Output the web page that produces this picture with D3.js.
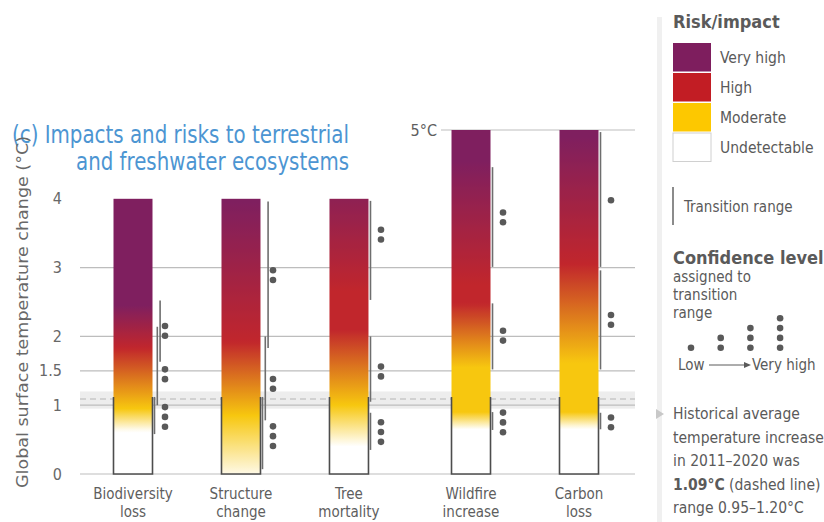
<!DOCTYPE html>
<html>
<head>
<meta charset="utf-8">
<script src="https://cdn.jsdelivr.net/npm/d3@7"></script>
<style>
  html, body { margin: 0; padding: 0; background: #fff; }
  svg { display: block; }
</style>
</head>
<body>
<svg id="chart" width="824" height="522"></svg>
<script>
// ---- Data -------------------------------------------------------------
const categories = ["Biodiversity loss", "Structure change", "Tree mortality", "Wildfire increase", "Carbon loss"];
const categoryLines = [["Biodiversity", "loss"], ["Structure", "change"], ["Tree", "mortality"], ["Wildfire", "increase"], ["Carbon", "loss"]];
const barTops = [4, 4, 4, 5, 5];           // °C reached by each assessed bar
const yTicks = [0, 1, 1.5, 2, 3, 4];
const gridValues = [0, 1, 1.5, 2, 3];
const topGridValue = 5;

const riskLevels = ["Very high", "High", "Moderate", "Undetectable"];
const riskColours = ["#7e1e5e", "#c21d24", "#fdc800", "#ffffff"];
const barRiskColours = ["#7f1f5f", "#c1262c", "#f7c70f", "#ffffff"];

// Colour stops along each bar: [°C, risk level]
const biodiversityStops = [[0.62, "Undetectable"], [0.95, "Moderate"], [1.83, "High"], [2.45, "Very high"]];
const structureStops    = [[-0.1, "Undetectable"], [0.85, "Moderate"], [1.92, "High"], [3.95, "Very high"]];
const treeStops         = [[0.40, "Undetectable"], [1.00, "Moderate"], [2.10, "High"], [2.65, "High"], [4.40, "Very high"]];
const wildfireStops     = [[0.65, "Undetectable"], [0.90, "Moderate"], [1.55, "Moderate"], [2.48, "High"], [2.75, "High"], [4.55, "Very high"]];
const carbonStops       = [[0.66, "Undetectable"], [0.90, "Moderate"], [1.61, "Moderate"], [3.05, "High"], [4.90, "Very high"]];

// Transition ranges: [from °C, to °C, confidence dots, °C of the dot marker]
const biodiversityTransitions = [[0.58, 1.12, 3, 0.83], [1.00, 2.14, 2, 1.45], [1.63, 2.52, 2, 2.08]];
const structureTransitions    = [[0.07, 1.12, 3, 0.55], [0.78, 2.00, 2, 1.31], [1.83, 3.96, 2, 2.89]];
const treeTransitions         = [[0.35, 0.89, 3, 0.61], [1.05, 2.00, 2, 1.49], [2.53, 3.97, 2, 3.48]];
const wildfireTransitions     = [[0.64, 0.90, 3, 0.75], [1.52, 2.48, 2, 2.01], [3.01, 4.46, 2, 3.73]];
const carbonTransitions       = [[0.65, 0.89, 2, 0.75], [1.52, 2.96, 2, 2.24], [3.01, 4.97, 1, 3.98]];

const historicalMean = 1.09;
const historicalRange = [0.95, 1.20];
const outlineTop = 1.12;                    // top of the outlined present-day section

const barStops = [biodiversityStops, structureStops, treeStops, wildfireStops, carbonStops];
const barTransitions = [biodiversityTransitions, structureTransitions, treeTransitions, wildfireTransitions, carbonTransitions];

// ---- Layout -----------------------------------------------------------
const FONT = "'Liberation Sans Narrow','DejaVu Sans Condensed','Open Sans',sans-serif";
const svg = d3.select("#chart").style("font-family", FONT);

const y = d3.scaleLinear().domain([0, 5]).range([474, 130]);
const groupGap = 0.13;                      // extra space before the fire/carbon pair
const slot = i => i + (i >= 3 ? groupGap : 0);
const x = d3.scaleLinear().domain([0, 4 + groupGap]).range([133, 579]);
const barW = 39;
const gridX0 = 80, gridX1 = 635;

const levelColour = d3.scaleOrdinal().domain(riskLevels).range(barRiskColours);

// ---- Title ------------------------------------------------------------
const title = svg.append("g").attr("fill", "#4c95d2").attr("font-size", 24).attr("text-anchor", "end");
title.append("text").attr("x", 349).attr("y", 143).text("(c) Impacts and risks to terrestrial")
  .attr("textLength", 337).attr("lengthAdjust", "spacingAndGlyphs");
title.append("text").attr("x", 349).attr("y", 170).text("and freshwater ecosystems")
  .attr("textLength", 273).attr("lengthAdjust", "spacingAndGlyphs");

// ---- Historical band and grid ----------------------------------------
svg.append("rect")
  .attr("x", gridX0).attr("width", gridX1 - gridX0)
  .attr("y", y(historicalRange[1])).attr("height", y(historicalRange[0]) - y(historicalRange[1]))
  .attr("fill", "#ededed");

svg.append("g").selectAll("line").data(gridValues).join("line")
  .attr("x1", gridX0).attr("x2", gridX1)
  .attr("y1", d => y(d)).attr("y2", d => y(d))
  .attr("stroke", "#bdbdbd").attr("stroke-width", 1.2);

svg.append("line")
  .attr("x1", 441).attr("x2", gridX1)
  .attr("y1", y(topGridValue)).attr("y2", y(topGridValue))
  .attr("stroke", "#bdbdbd").attr("stroke-width", 1.2);

svg.append("text").attr("x", 437).attr("y", y(topGridValue) + 5.5)
  .attr("text-anchor", "end").attr("fill", "#5e5e5e").attr("font-size", 16).text("5°C");

svg.append("line")
  .attr("x1", gridX0).attr("x2", gridX1)
  .attr("y1", y(historicalMean)).attr("y2", y(historicalMean))
  .attr("stroke", "#b5b5b5").attr("stroke-width", 1.1).attr("stroke-dasharray", "6,4");

// ---- Y axis -------------------------------------------------------------
const yAxis = svg.append("g").attr("transform", `translate(${gridX0},0)`)
  .call(d3.axisLeft(y).tickValues(yTicks).tickSize(0).tickPadding(18).tickFormat(d3.format("")));
yAxis.select(".domain").remove();
yAxis.selectAll("text").attr("fill", "#686868").attr("font-size", 16).attr("font-family", FONT);

svg.append("text")
  .attr("transform", "translate(28,312) rotate(-90)")
  .attr("text-anchor", "middle").attr("fill", "#686868").attr("font-size", 16)
  .attr("textLength", 352).attr("lengthAdjust", "spacingAndGlyphs")
  .text("Global surface temperature change (°C)");

// ---- Bars ---------------------------------------------------------------
const defs = svg.append("defs");
categories.forEach((c, i) => {
  const stops = barStops[i];
  const colour = d3.scaleLinear()
    .domain(stops.map(s => s[0]))
    .range(stops.map(s => levelColour(s[1])))
    .interpolate(d3.interpolateRgb)
    .clamp(true);
  const grad = defs.append("linearGradient")
    .attr("id", "grad" + i)
    .attr("gradientUnits", "userSpaceOnUse")
    .attr("x1", 0).attr("x2", 0)
    .attr("y1", y(0)).attr("y2", y(barTops[i]));
  d3.range(0, barTops[i] + 0.001, 0.05).forEach(t => {
    grad.append("stop").attr("offset", t / barTops[i]).attr("stop-color", colour(t));
  });
});

const bars = svg.append("g").selectAll("g").data(categories).join("g");

bars.append("rect")
  .attr("x", (d, i) => x(slot(i)) - barW / 2)
  .attr("width", barW)
  .attr("y", (d, i) => y(barTops[i]))
  .attr("height", (d, i) => y(0) - y(barTops[i]))
  .attr("fill", (d, i) => `url(#grad${i})`);

// outlined present-day section (open at the top)
bars.append("path")
  .attr("d", (d, i) => {
    const l = x(slot(i)) - barW / 2, r = l + barW;
    return `M${l},${y(outlineTop)}V${y(0)}H${r}V${y(outlineTop)}`;
  })
  .attr("fill", "none").attr("stroke", "#4d4d4d").attr("stroke-width", 1.6);

// category labels
bars.each(function (d, i) {
  const t = d3.select(this).append("text")
    .attr("text-anchor", "middle").attr("fill", "#5e5e5e").attr("font-size", 15);
  categoryLines[i].forEach((line, k) => {
    t.append("tspan").attr("x", x(slot(i))).attr("y", 499 + k * 18).text(line);
  });
});

// ---- Transition ranges and confidence dots ------------------------------
const dotR = 3.3, dotStep = 9.8;
categories.forEach((c, i) => {
  const right = x(slot(i)) + barW / 2;
  const g = svg.append("g");
  let lane = 0;
  barTransitions[i].forEach((tr, k) => {
    if (k > 0) {
      const prev = barTransitions[i][k - 1];
      lane = tr[0] < prev[1] ? lane + 1 : 0;
    }
    const lx = right + 2 + lane * 2.8;
    g.append("line")
      .attr("x1", lx).attr("x2", lx)
      .attr("y1", y(tr[1])).attr("y2", y(tr[0]))
      .attr("stroke", "#6e6e6e").attr("stroke-width", 1.6);
    const n = tr[2];
    const cy = y(tr[3]);
    g.selectAll(null).data(d3.range(n)).join("circle")
      .attr("cx", right + 12.5)
      .attr("cy", j => cy + (j - (n - 1) / 2) * dotStep)
      .attr("r", dotR)
      .attr("fill", "#595959");
  });
});

// ---- Legend -------------------------------------------------------------
const lg = svg.append("g").attr("fill", "#5a5a5a");
svg.insert("rect", ":first-child").attr("x", 657).attr("y", 17).attr("width", 5).attr("height", 505).attr("fill", "#f0f0f0");

lg.append("text").attr("x", 673).attr("y", 28).attr("font-size", 18).attr("font-weight", "bold").text("Risk/impact");
riskLevels.forEach((lvl, k) => {
  const top = 43 + k * 30;
  lg.append("rect").attr("x", 673).attr("y", top).attr("width", 38).attr("height", 28.5)
    .attr("fill", riskColours[k])
    .attr("stroke", lvl === "Undetectable" ? "#d0d0d0" : "none").attr("stroke-width", 1);
  lg.append("text").attr("x", 720).attr("y", top + 20).attr("font-size", 15.5).text(lvl);
});

lg.append("line").attr("x1", 673).attr("x2", 673).attr("y1", 187).attr("y2", 225)
  .attr("stroke", "#6e6e6e").attr("stroke-width", 1.6);
lg.append("text").attr("x", 684).attr("y", 212).attr("font-size", 15).text("Transition range");

lg.append("text").attr("x", 673).attr("y", 264).attr("font-size", 18).attr("font-weight", "bold").text("Confidence level");
["assigned to", "transition", "range"].forEach((s, k) => {
  lg.append("text").attr("x", 673).attr("y", 282 + k * 18).attr("font-size", 15).text(s);
});

const confidenceLevels = [1, 2, 3, 4];
confidenceLevels.forEach((n, k) => {
  const cx = 691 + k * 29.7;
  d3.range(n).forEach(j => {
    lg.append("circle").attr("cx", cx).attr("cy", 347.7 - j * 9.8).attr("r", dotR).attr("fill", "#595959");
  });
});
lg.append("text").attr("x", 678).attr("y", 370).attr("font-size", 15).text("Low");
lg.append("line").attr("x1", 709).attr("x2", 746).attr("y1", 365).attr("y2", 365).attr("stroke", "#5a5a5a").attr("stroke-width", 1);
lg.append("path").attr("d", "M751,365L744,362L744,368Z").attr("fill", "#5a5a5a");
lg.append("text").attr("x", 752).attr("y", 370).attr("font-size", 15).text("Very high");

lg.append("path").attr("d", "M656,409L664,414L656,419Z").attr("fill", "#c8c8c8");
const hist = ["Historical average", "temperature increase", "in 2011–2020 was"];
hist.forEach((s, k) => {
  lg.append("text").attr("x", 673).attr("y", 419 + k * 23.5).attr("font-size", 15.5).text(s);
});
const l4 = lg.append("text").attr("x", 673).attr("y", 419 + 3 * 23.5).attr("font-size", 15.5);
l4.append("tspan").attr("font-weight", "bold").text(`${historicalMean.toFixed(2)}°C`);
l4.append("tspan").text(" (dashed line)");
lg.append("text").attr("x", 673).attr("y", 419 + 4 * 23.5).attr("font-size", 15.5)
  .text(`range ${historicalRange[0].toFixed(2)}–${historicalRange[1].toFixed(2)}°C`);
</script>
</body>
</html>
